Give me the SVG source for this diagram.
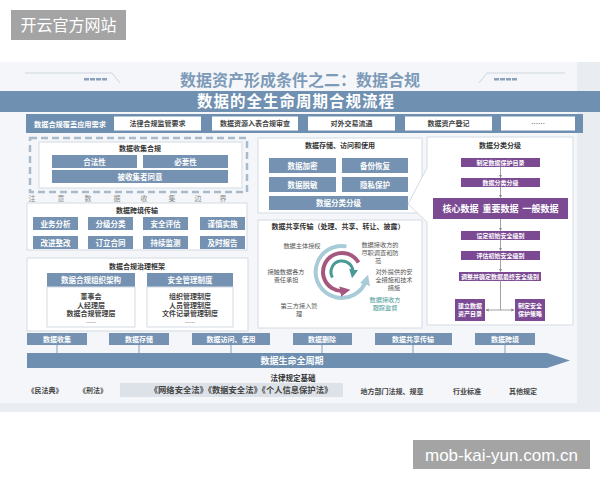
<svg xmlns="http://www.w3.org/2000/svg" width="600" height="480" viewBox="0 0 600 480">
<defs>
<style>
text{font-family:"Noto Sans CJK SC","Noto Sans",sans-serif;text-anchor:middle}
.wm{fill:#a4a4a4}
.wmt{fill:#fff;font-size:16px}
.pan{fill:#fff;stroke:#d3dbe4;stroke-width:1}
.bb{fill:#7592b2}
.bt{fill:#fff;font-size:7.5px;font-weight:bold}
.ht{fill:#333;font-size:7px;font-weight:bold}
.dt{fill:#444;font-size:7px;font-weight:bold}
.st{fill:#555;font-size:6.2px}
.pp{fill:#7b4a93}
.pt{fill:#fff;font-size:6px;font-weight:bold}
.cn{stroke:#8a8a8a;stroke-width:0.8;fill:none}
.sl{stroke:#8aa0b6;stroke-width:1;fill:none}
</style>
<marker id="ah" viewBox="0 0 6 6" refX="5" refY="3" markerWidth="4" markerHeight="4" orient="auto-start-reverse"><path d="M0,0 L6,3 L0,6 Z" fill="#8a8a8a"/></marker>
<marker id="ab" viewBox="0 0 6 6" refX="3" refY="3" markerWidth="2.6" markerHeight="2.6" orient="auto"><path d="M0,0 L6,3 L0,6 Z" fill="#a8cbd8"/></marker>
<marker id="am" viewBox="0 0 6 6" refX="3" refY="3" markerWidth="2.6" markerHeight="2.6" orient="auto"><path d="M0,0 L6,3 L0,6 Z" fill="#a5577f"/></marker>
<marker id="at" viewBox="0 0 6 6" refX="3" refY="3" markerWidth="3" markerHeight="3" orient="auto"><path d="M0,0 L6,3 L0,6 Z" fill="#4b9a98"/></marker>
</defs>
<rect width="600" height="480" fill="#fff"/>
<rect x="0" y="62" width="600" height="350" fill="#e9ecf0"/>
<rect x="0" y="62" width="577" height="341" fill="#f4f6f9"/>
<g id="watermark1"><rect class="wm" x="11" y="10" width="115" height="30"/><text class="wmt" x="68.5" y="31">开云官方网站</text></g>
<g id="watermark2"><rect class="wm" x="413" y="440" width="177" height="29"/><text x="501.5" y="460.5" style="font-family:'Liberation Sans',sans-serif;font-size:17px;fill:#fff">mob-kai-yun.com.cn</text></g>
<g id="title">
<polyline points="25,73 112,73 120,83" fill="none" stroke="#cfd7df" stroke-width="1"/>
<rect x="84" y="78" width="5" height="2.5" fill="#8ca2ba"/><rect x="90" y="78" width="5" height="2.5" fill="#8ca2ba"/><rect x="96" y="78" width="5" height="2.5" fill="#8ca2ba"/><rect x="102" y="78" width="5" height="2.5" fill="#8ca2ba"/>
<polyline points="479,83 487,73 565,73" fill="none" stroke="#cfd7df" stroke-width="1"/>
<rect x="494" y="78" width="5" height="2.5" fill="#8ca2ba"/><rect x="500" y="78" width="5" height="2.5" fill="#8ca2ba"/><rect x="506" y="78" width="5" height="2.5" fill="#8ca2ba"/><rect x="512" y="78" width="5" height="2.5" fill="#8ca2ba"/>
<text x="300" y="86" style="font-size:16px;font-weight:bold;fill:#7d9ab8">数据资产形成条件之二：数据合规</text>
</g>
<g id="band"><rect x="0" y="91" width="600" height="21" fill="#7090b1"/><text x="296" y="107" style="font-size:15.5px;font-weight:bold;fill:#fff;letter-spacing:1px">数据的全生命周期合规流程</text></g>
<g id="requirements">
<rect x="26" y="114" width="557" height="19" fill="#6f8fb1"/>
<text class="bt" x="70" y="126.5" style="font-size:7.2px">数据合规覆盖应用需求</text>
<rect x="114" y="116.5" width="87" height="14" fill="#fff"/><text class="dt" x="157.5" y="126">法律合规监管要求</text>
<rect x="212" y="116.5" width="86" height="14" fill="#fff"/><text class="dt" x="255" y="126">数据资源入表合规审查</text>
<rect x="308" y="116.5" width="87" height="14" fill="#fff"/><text class="dt" x="351.5" y="126">对外交易流通</text>
<rect x="405" y="116.5" width="87" height="14" fill="#fff"/><text class="dt" x="448.5" y="126">数据资产登记</text>
<rect x="501" y="116.5" width="74" height="14" fill="#fff"/><text class="dt" x="538" y="126" style="font-weight:normal">……</text>
</g>
<g id="collection">
<rect x="30" y="138" width="217" height="54" fill="none" stroke="#a9bacb" stroke-width="2.5" stroke-dasharray="7,4"/>
<rect class="pan" x="39" y="142" width="203" height="46"/>
<text class="ht" x="140" y="151">数据收集合规</text>
<rect class="bb" x="52" y="155" width="85" height="13"/><text class="bt" x="94.5" y="164.5">合法性</text>
<rect class="bb" x="143" y="155" width="85" height="13"/><text class="bt" x="185.5" y="164.5">必要性</text>
<rect class="bb" x="52" y="170" width="176" height="13"/><text class="bt" x="140" y="179.5">被收集者同意</text>
<g style="font-size:7px;fill:#8a8a8a"><text x="32" y="201">注</text><text x="61" y="201">意</text><text x="88" y="201">数</text><text x="117" y="201">据</text><text x="144" y="201">收</text><text x="172" y="201">集</text><text x="198" y="201">边</text><text x="223" y="201">界</text></g>
</g>
<g id="crossborder">
<rect class="pan" x="27" y="203" width="220" height="47"/>
<text class="ht" x="137" y="213">数据跨境传输</text>
<rect class="bb" x="33" y="217" width="45" height="13"/><text class="bt" x="55.5" y="226.5">业务分析</text>
<rect class="bb" x="88" y="217" width="45" height="13"/><text class="bt" x="110.5" y="226.5">分级分类</text>
<rect class="bb" x="143" y="217" width="45" height="13"/><text class="bt" x="165.5" y="226.5">安全评估</text>
<rect class="bb" x="200" y="217" width="45" height="13"/><text class="bt" x="222.5" y="226.5">谨慎实施</text>
<rect class="bb" x="33" y="236" width="45" height="13"/><text class="bt" x="55.5" y="245.5">改进整改</text>
<rect class="bb" x="88" y="236" width="45" height="13"/><text class="bt" x="110.5" y="245.5">订立合同</text>
<rect class="bb" x="143" y="236" width="45" height="13"/><text class="bt" x="165.5" y="245.5">持续监测</text>
<rect class="bb" x="200" y="236" width="45" height="13"/><text class="bt" x="222.5" y="245.5">及时报告</text>
</g>
<g id="governance">
<rect class="pan" x="27" y="258" width="221" height="73"/>
<text class="ht" x="137" y="269">数据合规治理框架</text>
<rect class="bb" x="47" y="273" width="88" height="14"/><text class="bt" x="91" y="283">数据合规组织架构</text>
<rect class="pan" x="47" y="287" width="88" height="40"/>
<text class="dt" x="91" y="299">董事会</text><text class="dt" x="91" y="307.5">人经理层</text><text class="dt" x="91" y="316">数据合规管理层</text><text class="dt" x="91" y="324" style="font-size:5px;font-weight:normal">……</text>
<rect class="bb" x="147" y="273" width="86" height="14"/><text class="bt" x="190" y="283">安全管理制度</text>
<rect class="pan" x="147" y="287" width="86" height="40"/>
<text class="dt" x="190" y="299">组织管理制度</text><text class="dt" x="190" y="307.5">人员管理制度</text><text class="dt" x="190" y="316">文件记录管理制度</text><text class="dt" x="190" y="324" style="font-size:5px;font-weight:normal">……</text>
</g>
<g id="storage">
<rect class="pan" x="258" y="138" width="164" height="75"/>
<text class="ht" x="340" y="148">数据存储、访问和使用</text>
<rect class="bb" x="269" y="158" width="67" height="15"/><text class="bt" x="302.5" y="168.5">数据加密</text>
<rect class="bb" x="342" y="158" width="66" height="15"/><text class="bt" x="375" y="168.5">备份恢复</text>
<rect class="bb" x="269" y="177" width="67" height="15"/><text class="bt" x="302.5" y="187.5">数据脱敏</text>
<rect class="bb" x="342" y="177" width="66" height="15"/><text class="bt" x="375" y="187.5">隐私保护</text>
<rect class="bb" x="269" y="196" width="139" height="14"/><text class="bt" x="338.5" y="206">数据分类分级</text>
</g>
<g id="sharing">
<rect class="pan" x="258" y="220" width="164" height="108"/>
<text class="ht" x="338" y="229">数据共享传输（处理、共享、转让、披露）</text>
<path d="M346.5,246.4 A26,26 0 1 0 366.5,279.7" fill="none" stroke="#a8cbd8" stroke-width="4" marker-end="url(#ab)"/>
<path d="M358.5,262.5 A19,19 0 1 0 345.3,290.7" fill="none" stroke="#a5577f" stroke-width="4" marker-end="url(#am)"/>
<path d="M332.5,277.5 A11,11 0 1 1 352.8,273.9" fill="none" stroke="#4b9a98" stroke-width="3" marker-end="url(#at)"/>
<text class="st" x="302" y="248">数据主体授权</text>
<text class="st" x="380" y="247">数据接收方的</text><text class="st" x="380" y="255">尽职调查和防</text><text class="st" x="378" y="263">范</text>
<text class="st" x="286" y="274">接触数据各方</text><text class="st" x="286" y="282">责任承担</text>
<text class="st" x="394" y="274">对外提供的安</text><text class="st" x="394" y="282">全措施和技术</text><text class="st" x="394" y="290">措施</text>
<text class="st" x="385" y="302" style="fill:#4a9a96">数据接收方</text><text class="st" x="385" y="310" style="fill:#4a9a96">跟踪监督</text>
<text class="st" x="299" y="308">第三方接入管</text><text class="st" x="299" y="316">理</text>
</g>
<g id="classification">
<path class="pan" d="M427,137 H573 V325 H427 V222 L408,204 L427,168 Z"/>
<text class="ht" x="500" y="148">数据分类分级</text>
<rect class="pp" x="461" y="158" width="79" height="9"/><text class="pt" x="500.5" y="165">制定数据保护目录</text>
<rect class="pp" x="461" y="178" width="79" height="9"/><text class="pt" x="500.5" y="185">数据分类分级</text>
<rect class="pp" x="433" y="198" width="135" height="21"/><text x="500.5" y="212" style="font-size:9px;font-weight:bold;fill:#fff;white-space:pre">核心数据  重要数据  一般数据</text>
<rect class="pp" x="461" y="231" width="79" height="9"/><text class="pt" x="500.5" y="238">设定初始安全级别</text>
<rect class="pp" x="461" y="251" width="79" height="9"/><text class="pt" x="500.5" y="258">评估初始安全级别</text>
<rect class="pp" x="459" y="272" width="82" height="9"/><text class="pt" x="500" y="279">调整并确定数据最终安全级别</text>
<rect class="pp" x="455" y="299" width="30" height="22"/><text class="pt" x="470" y="308">建立数据</text><text class="pt" x="470" y="316">资产目录</text>
<rect class="pp" x="515" y="299" width="30" height="22"/><text class="pt" x="530" y="308">制定安全</text><text class="pt" x="530" y="316">保护策略</text>
</g>
<g id="connectors">
<line class="cn" x1="500.5" y1="167" x2="500.5" y2="177.5" marker-end="url(#ah)"/>
<line class="cn" x1="500.5" y1="187" x2="500.5" y2="197.5" marker-end="url(#ah)"/>
<line class="cn" x1="500.5" y1="219" x2="500.5" y2="230.5" marker-end="url(#ah)"/>
<line class="cn" x1="500.5" y1="240" x2="500.5" y2="250.5" marker-end="url(#ah)"/>
<line class="cn" x1="500.5" y1="260" x2="500.5" y2="271.5" marker-end="url(#ah)"/>
<line class="cn" x1="500.5" y1="281" x2="500.5" y2="310"/>
<line class="cn" x1="486" y1="310" x2="514" y2="310" marker-start="url(#ah)" marker-end="url(#ah)"/>
<line class="sl" x1="57" y1="345" x2="57" y2="353"/>
<line class="sl" x1="139" y1="345" x2="139" y2="353"/>
<line class="sl" x1="231" y1="345" x2="231" y2="353"/>
<line class="sl" x1="322" y1="345" x2="322" y2="353"/>
<line class="sl" x1="413" y1="345" x2="413" y2="353"/>
<line class="sl" x1="505" y1="345" x2="505" y2="353"/>
</g>
<g id="lifecycle">
<rect class="bb" x="27" y="333" width="60" height="12"/><text class="bt" x="57" y="342" style="font-size:7px">数据收集</text>
<rect class="bb" x="109" y="333" width="60" height="12"/><text class="bt" x="139" y="342" style="font-size:7px">数据存储</text>
<rect class="bb" x="192" y="333" width="78" height="12"/><text class="bt" x="231" y="342" style="font-size:7px">数据访问、使用</text>
<rect class="bb" x="293" y="333" width="59" height="12"/><text class="bt" x="322" y="342" style="font-size:7px">数据删除</text>
<rect class="bb" x="375" y="333" width="77" height="12"/><text class="bt" x="413" y="342" style="font-size:7px">数据共享传输</text>
<rect class="bb" x="475" y="333" width="60" height="12"/><text class="bt" x="505" y="342" style="font-size:7px">数据跨境</text>
<polygon points="27,353 547,353 570,360.5 547,368 27,368" fill="#6f8fb1"/>
<text x="292" y="364" style="font-size:9px;font-weight:bold;fill:#fff">数据生命全周期</text>
</g>
<g id="laws">
<text class="dt" x="293" y="381" style="font-size:7.5px;fill:#333">法律规定基础</text>
<text class="dt" x="45" y="393">《民法典》</text>
<text class="dt" x="93" y="393">《刑法》</text>
<rect x="120" y="383" width="223" height="14" fill="#dde2e8"/>
<text class="dt" x="241" y="393" style="font-size:8.3px">《网络安全法》《数据安全法》《个人信息保护法》</text>
<text class="dt" x="392" y="394">地方部门法规、规章</text>
<text class="dt" x="467" y="394">行业标准</text>
<text class="dt" x="523" y="394">其他规定</text>
</g>
</svg>
